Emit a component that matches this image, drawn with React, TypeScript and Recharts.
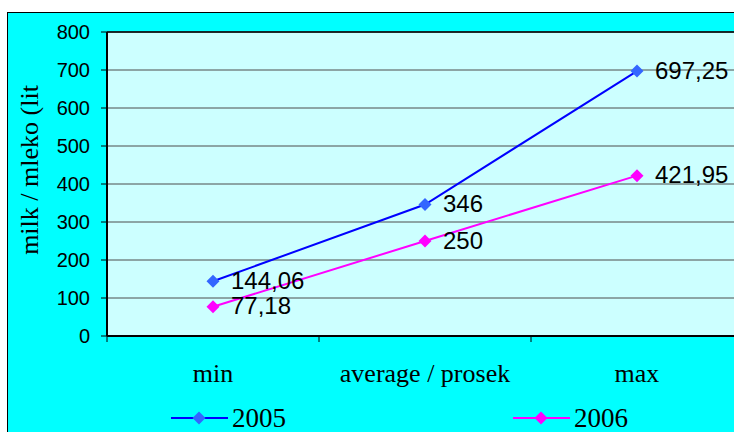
import React from 'react';
import { LineChart, Line, XAxis, YAxis, CartesianGrid, Legend, LabelList, ReferenceLine } from 'recharts';

const categories = ['min', 'average / prosek', 'max'];
const values2005 = [144.06, 346, 697.25];
const values2006 = [77.18, 250, 421.95];
const yTicks = [0, 100, 200, 300, 400, 500, 600, 700, 800];
const yTitle = 'milk / mleko (lit';

const series = [
    { key: 'y2005', name: '2005', line: '#0000FF', marker: '#3366FF' },
    { key: 'y2006', name: '2006', line: '#FF00FF', marker: '#FF00FF' },
];

const data = categories.map((category, i) => ({
    category,
    y2005: values2005[i],
    y2006: values2006[i],
}));

const CHART_W = 760;
const CHART_H = 432;
const MARGIN = { top: 32, right: 17, left: 0, bottom: 36 };
const Y_AXIS_W = 107;
const PLOT_W = CHART_W - MARGIN.right - MARGIN.left - Y_AXIS_W;
const HALF_BAND = PLOT_W / categories.length / 2;

const serif = '"Times New Roman", "Liberation Serif", serif';
const sans = 'Arial, "Liberation Sans", sans-serif';

const diamond = (cx: number, cy: number, r: number, fill: string) => (
    <polygon
        points={`${cx},${cy - r} ${cx + r},${cy} ${cx},${cy + r} ${cx - r},${cy}`}
        fill={fill}
    />
);

const makeDot = (fill: string) => (props: any) => (
    <g key={`dot-${props.index}`}>{diamond(props.cx, props.cy, 6.5, fill)}</g>
);

const formatValue = (v: number) => String(v).replace('.', ',');

const ValueLabel = (props: any) => {
    const x = props.viewBox?.x ?? props.x;
    const y = props.viewBox?.y ?? props.y;
    return (
        <text x={x + 18} y={y - 1} dominantBaseline="central" fontFamily={sans} fontSize={24} fill="#000">
            {formatValue(props.value)}
        </text>
    );
};

const CategoryTick = (props: any) => {
    const { x, y, payload, index } = props;
    return (
        <g>
            <line x1={x - HALF_BAND} x2={x - HALF_BAND} y1={y} y2={y + 6} stroke="#000" />
            {index === categories.length - 1 && (
                <line x1={x + HALF_BAND} x2={x + HALF_BAND} y1={y} y2={y + 6} stroke="#000" />
            )}
            <text x={x} y={y + 37} textAnchor="middle" dominantBaseline="central" fontFamily={serif} fontSize={26} fill="#000">
                {payload.value}
            </text>
        </g>
    );
};

const YTitle = (props: any) => {
    const vb = props.viewBox;
    const cx = 29;
    const cy = vb.y + vb.height / 2 - 14;
    return (
        <text
            x={cx}
            y={cy}
            transform={`rotate(-90, ${cx}, ${cy})`}
            textAnchor="middle"
            dominantBaseline="central"
            fontFamily={serif}
            fontSize={26}
            fill="#000"
        >
            {yTitle}
        </text>
    );
};

const LegendContent = () => (
    <svg width={CHART_W} height={36} style={{ display: 'block' }}>
        {series.map((s, i) => {
            const x0 = 171 + i * 342;
            return (
                <g key={s.key}>
                    <line x1={x0} x2={x0 + 57} y1={18} y2={18} stroke={s.line} strokeWidth={2} />
                    {diamond(x0 + 28, 18, 6.5, s.marker)}
                    <text x={x0 + 61} y={18} dominantBaseline="central" fontFamily={serif} fontSize={27} fill="#000">
                        {s.name}
                    </text>
                </g>
            );
        })}
    </svg>
);

export default function App() {
    return (
        <div style={{ position: 'fixed', left: 0, top: 0, width: 734, height: 432, overflow: 'hidden', background: '#fff' }}>
            <div
                style={{
                    position: 'absolute',
                    left: 7,
                    top: 12,
                    width: 800,
                    height: 500,
                    border: '1.5px solid #000',
                    background: '#00FFFF',
                }}
            />
            <div style={{ position: 'absolute', left: 0, top: 0 }}>
                <LineChart width={CHART_W} height={CHART_H} data={data} margin={MARGIN}>
                    <CartesianGrid vertical={false} fill="#CCFFFF" stroke="#4d4d4d" strokeWidth={1} />
                    <XAxis
                        dataKey="category"
                        height={60}
                        padding={{ left: HALF_BAND, right: HALF_BAND }}
                        axisLine={{ stroke: '#000', strokeWidth: 2 }}
                        tickLine={false}
                        tickSize={0}
                        tickMargin={0}
                        tick={<CategoryTick />}
                        interval={0}
                    />
                    <YAxis
                        width={Y_AXIS_W}
                        domain={[0, 800]}
                        ticks={yTicks}
                        interval={0}
                        tickSize={6}
                        tickMargin={11}
                        axisLine={{ stroke: '#000', strokeWidth: 2 }}
                        tickLine={{ stroke: '#000' }}
                        tick={{ fill: '#000', fontSize: 20, fontFamily: sans }}
                        label={<YTitle />}
                    />
                    <ReferenceLine y={800} stroke="#000" strokeWidth={1.5} />
                    {series.map((s) => (
                        <Line
                            key={s.key}
                            dataKey={s.key}
                            name={s.name}
                            type="linear"
                            stroke={s.line}
                            strokeWidth={2}
                            dot={makeDot(s.marker)}
                            activeDot={false}
                            isAnimationActive={false}
                        >
                            <LabelList dataKey={s.key} content={<ValueLabel />} />
                        </Line>
                    ))}
                    <Legend
                        layout="horizontal"
                        verticalAlign="middle"
                        align="center"
                        content={<LegendContent />}
                        wrapperStyle={{ position: 'absolute', left: 0, top: 400, width: CHART_W, height: 36 }}
                    />
                </LineChart>
            </div>
        </div>
    );
}
